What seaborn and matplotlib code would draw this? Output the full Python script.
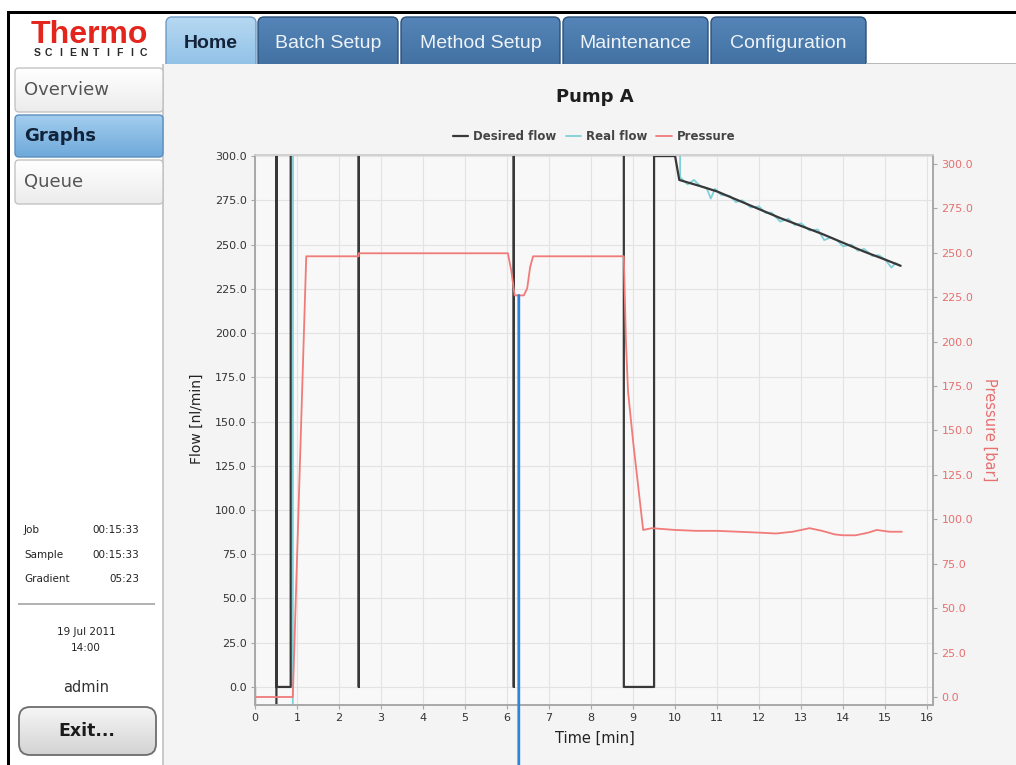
import numpy as np
import matplotlib
matplotlib.use("Agg")
import matplotlib.pyplot as plt
import seaborn as sns
from matplotlib.patches import FancyBboxPatch, Rectangle
from matplotlib.colors import LinearSegmentedColormap

# values (Pump A)
desired_time = [0.0, 0.0, 0.51, 0.51, 0.51, 0.85, 0.85, 2.47, 2.47, 2.47,
                6.16, 6.16, 6.16, 8.78, 8.78, 9.5, 9.5, 10.0, 10.1, 10.6,
                11.0, 11.5, 12.0, 12.5, 13.0, 13.5, 14.0, 14.5, 15.0, 15.37]
desired_flow = [0.0, -20.0, -20.0, 2000.0, 0.0, 0.0, 2000.0, 2000.0, 0.0, 2000.0,
                2000.0, 0.0, 2000.0, 2000.0, 0.0, 0.0, 300.0, 300.0, 286.5, 283.0,
                280.0, 275.0, 270.0, 265.0, 260.5, 256.0, 251.0, 246.0, 241.5, 238.0]

real_time = [0.0, 0.0, 0.0, 0.9, 0.93, 10.05, 10.12, 10.3, 10.45, 10.6,
             10.75, 10.85, 10.95, 11.1, 11.3, 11.45, 11.6, 11.8, 12.0, 12.15,
             12.3, 12.5, 12.7, 12.85, 13.0, 13.2, 13.4, 13.55, 13.7, 13.85,
             14.0, 14.2, 14.35, 14.5, 14.7, 14.85, 15.0, 15.15, 15.25, 15.35]
real_flow = [0.0, 9.0, -20.0, -20.0, 2000.0, 2000.0, 288.0, 284.0, 286.5, 283.0,
             282.0, 276.0, 281.5, 278.0, 277.5, 274.0, 275.0, 271.0, 271.5, 268.0,
             268.0, 263.0, 264.5, 261.0, 262.0, 258.0, 258.5, 252.5, 254.0, 252.5,
             249.0, 250.0, 246.5, 247.5, 243.5, 244.0, 241.5, 237.0, 239.5, 238.0]

pressure_time = [0.0, 0.9, 1.22, 2.47, 2.47, 6.02, 6.1, 6.18, 6.4, 6.48,
                 6.55, 6.62, 8.78, 8.83, 8.88, 9.0, 9.24, 9.45, 10.0, 10.5,
                 11.0, 11.5, 12.0, 12.4, 12.8, 13.2, 13.5, 13.8, 14.0, 14.3,
                 14.6, 14.8, 15.1, 15.4]
pressure_bar = [0.0, 0.0, 248.0, 248.0, 249.7, 249.7, 240.0, 226.0, 226.0, 230.0,
                242.0, 248.0, 248.0, 200.0, 172.0, 144.0, 94.0, 95.0, 94.0, 93.5,
                93.5, 93.0, 92.5, 92.0, 93.0, 95.0, 93.5, 91.5, 91.0, 91.0,
                92.5, 94.0, 93.0, 93.0]

flow_ticks = np.arange(0, 301, 25)
time_ticks = np.arange(0, 17, 1)

tabs = ["Home", "Batch Setup", "Method Setup", "Maintenance", "Configuration"]
side_buttons = ["Overview", "Graphs", "Queue"]
timers = [("Job", "00:15:33"), ("Sample", "00:15:33"), ("Gradient", "05:23")]

sns.set_style("whitegrid")
plt.rcParams['font.family'] = ['DejaVu Sans']

c_desired = '#383838'
c_real = '#7fd0d8'
c_press = '#f07b78'
c_press_txt = '#e76f6f'

fig = plt.figure(figsize=(10.16, 7.65), dpi=100)
fig.patch.set_facecolor('white')

# screen chrome, drawn in pixel coordinates
bg = fig.add_axes([0, 0, 1, 1])
bg.axis('off')


def gradient_box(x0, y0, x1, y1, top, bottom, edge, radius, lw=1.0, z=1):
    box = FancyBboxPatch((x0, y0), x1 - x0, y1 - y0,
                         boxstyle=f"round,pad=0,rounding_size={radius}",
                         fc='none', ec=edge, lw=lw, zorder=z + 0.1)
    bg.add_patch(box)
    cmap = LinearSegmentedColormap.from_list('g', [top, bottom])
    im = bg.imshow(np.linspace(0, 1, 64).reshape(-1, 1), extent=(x0, x1, y1, y0),
                   aspect='auto', cmap=cmap, zorder=z, interpolation='bilinear')
    im.set_clip_path(box)
    return box


# tabs
tab_x = [(166, 256), (258, 398), (401, 560), (563, 708), (711, 866)]
for name, (x0, x1) in zip(tabs, tab_x):
    if name == "Home":
        gradient_box(x0, 17, x1, 80, '#b6d8f2', '#86bbe3', '#6f9cc6', 6)
        bg.text((x0 + x1) / 2, 43, name, ha='center', va='center', fontsize=14,
                fontweight='bold', color='#15233a', family='Liberation Sans', zorder=3)
    else:
        gradient_box(x0, 17, x1, 80, '#5585b8', '#3c6a9b', '#2d5077', 6)
        bg.text((x0 + x1) / 2, 43, name, ha='center', va='center', fontsize=14,
                color='#eef3f8', family='Liberation Sans', zorder=3)

# content panel
bg.add_patch(Rectangle((163, 64), 860, 710, fc='#f4f4f4', ec='none', zorder=4))
bg.add_patch(Rectangle((162, 64), 1.5, 710, fc='#c9c9c9', ec='none', zorder=4.1))
bg.add_patch(Rectangle((866, 62.5), 150, 1.5, fc='#b9b9b9', ec='none', zorder=4.1))

# outer frame
bg.add_patch(Rectangle((7, 11), 1012, 2.5, fc='black', ec='none', zorder=5))
bg.add_patch(Rectangle((7, 11), 2.5, 760, fc='black', ec='none', zorder=5))

# logo
bg.text(89, 35, "Thermo", ha='center', va='center', fontsize=23, fontweight='bold',
        color='#e3261d', family='Liberation Sans', zorder=5)
for i, ch in enumerate("SCIENTIFIC"):
    bg.text(37 + i * 11.8, 53, ch, ha='center', va='center', fontsize=7.5,
            fontweight='bold', color='#2a2a2a', family='Liberation Sans', zorder=5)

# side buttons
side_y = [(68, 112), (115, 157), (160, 204)]
for name, (y0, y1) in zip(side_buttons, side_y):
    if name == "Graphs":
        gradient_box(15, y0, 163, y1, '#a3cdef', '#6fa9da', '#5c8fbf', 4, z=6)
        bg.text(24, (y0 + y1) / 2, name, ha='left', va='center', fontsize=13,
                fontweight='bold', color='#10233a', zorder=7)
    else:
        gradient_box(15, y0, 163, y1, '#ffffff', '#ececec', '#c3c3c3', 4, z=6)
        bg.text(24, (y0 + y1) / 2, name, ha='left', va='center', fontsize=13,
                color='#555555', zorder=7)

for i, (lab, val) in enumerate(timers):
    y = 530 + i * 24.5
    bg.text(24, y, lab, ha='left', va='center', fontsize=7.5, color='#222222', zorder=7)
    bg.text(139, y, val, ha='right', va='center', fontsize=7.5, color='#222222', zorder=7)
bg.add_patch(Rectangle((18, 603), 137, 2, fc='#b3b3b3', ec='none', zorder=7))
bg.text(86, 632, "19 Jul 2011", ha='center', va='center', fontsize=7.5, color='#222222', zorder=7)
bg.text(86, 648, "14:00", ha='center', va='center', fontsize=7.5, color='#222222', zorder=7)
bg.text(86, 688, "admin", ha='center', va='center', fontsize=10.5, color='#333333', zorder=7)
gradient_box(19, 707, 156, 755, '#f6f6f6', '#d3d3d3', '#6d6d6d', 11, lw=1.3, z=6)
bg.text(87, 731, "Exit...", ha='center', va='center', fontsize=12.5, fontweight='bold',
        color='#1a1a1a', zorder=7)

bg.text(595, 97, "Pump A", ha='center', va='center', fontsize=13, fontweight='bold',
        color='#1e1e1e', zorder=7)

bg.set_xlim(0, 1016)
bg.set_ylim(765, 0)

# chart
ax = fig.add_axes([255 / 1016, 1 - 705 / 765, 678 / 1016, 550 / 765])
ax.set_facecolor('#f8f8f8')
ax2 = ax.twinx()

sns.lineplot(x=real_time, y=real_flow, ax=ax, estimator=None, sort=False,
             color=c_real, lw=1.3, label="Real flow", legend=False)
sns.lineplot(x=desired_time, y=desired_flow, ax=ax, estimator=None, sort=False,
             color=c_desired, lw=1.6, label="Desired flow", legend=False)
sns.lineplot(x=pressure_time, y=pressure_bar, ax=ax2, estimator=None, sort=False,
             color=c_press, lw=1.3, label="Pressure", legend=False)

ax.set_xlim(0, 16.14)
ax.set_ylim(-10.2, 300.6)
ax2.set_ylim(-4.5, 305)
ax.set_xticks(time_ticks)
ax.set_yticks(flow_ticks)
ax2.set_yticks(flow_ticks)
ax.set_yticklabels([f"{v:.1f}" for v in flow_ticks])
ax2.set_yticklabels([f"{v:.1f}" for v in flow_ticks])

ax.grid(True, color='#e3e3e3', lw=0.8)
ax2.grid(False)
for a in (ax, ax2):
    for s in a.spines.values():
        s.set_color('#a8a8a8')
        s.set_linewidth(1.2)
    a.spines['top'].set_color('#d0d0d0')
ax.tick_params(axis='both', direction='out', length=3, width=0.8, color='#a8a8a8',
               labelsize=8, labelcolor='#333333', pad=3)
ax.tick_params(axis='y', left=True)
ax.tick_params(axis='x', bottom=True)
ax2.tick_params(axis='y', direction='out', length=3, width=0.8, color='#a8a8a8',
                labelsize=8, labelcolor=c_press_txt, pad=3, right=True)

ax.set_xlabel("Time [min]", fontsize=10.5, color='#222222')
ax.set_ylabel("Flow [nl/min]", fontsize=10, color='#222222')
ax2.set_ylabel("Pressure [bar]", fontsize=10.5, color=c_press_txt, rotation=270)
ax.xaxis.set_label_coords(0.501, -0.047)
ax.yaxis.set_label_coords(-0.075, 0.52)
ax2.yaxis.set_label_coords(1.094, 0.5)

h_desired = [h for h in ax.get_lines() if h.get_label() == "Desired flow"][0]
h_real = [h for h in ax.get_lines() if h.get_label() == "Real flow"][0]
h_press = [h for h in ax2.get_lines() if h.get_label() == "Pressure"][0]
ax2.legend([h_desired, h_real, h_press], ["Desired flow", "Real flow", "Pressure"],
           loc='center', bbox_to_anchor=(0.5, 1.033), ncol=3, frameon=False,
           handlelength=1.3, handletextpad=0.4, columnspacing=0.8,
           prop={'size': 8.5, 'weight': 'bold'}, labelcolor='#444444')

# blue cursor line from the pressure dip to the bottom of the screen
ax2.annotate('', xy=(6.28, 226), xycoords='data', xytext=(6.28, 0),
             textcoords=('data', 'figure fraction'),
             arrowprops=dict(arrowstyle='-', color='#2f84d6', lw=2,
                             shrinkA=0, shrinkB=0), annotation_clip=False)

plt.savefig('out.png', dpi=100)
